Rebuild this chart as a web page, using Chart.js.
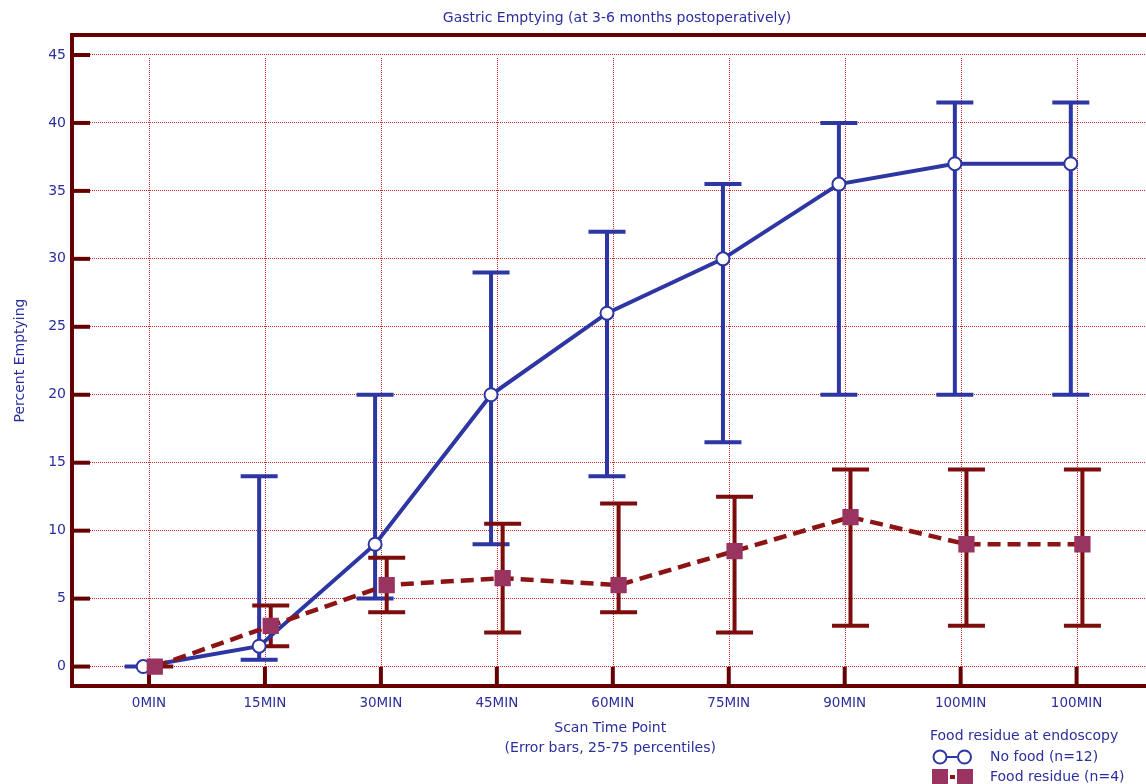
<!DOCTYPE html>
<html>
<head>
<meta charset="utf-8">
<title>Gastric Emptying</title>
<script src="https://cdn.jsdelivr.net/npm/chart.js@4.4.0/dist/chart.umd.min.js"></script>
<style>
    html, body { margin: 0; padding: 0; overflow: hidden; background: #fff; }
    canvas { display: block; }
</style>
</head>
<body>
<canvas id="gastricChart" width="1160" height="784"></canvas>
<script>
// Scan time points and y ticks
const categories = ['0MIN', '15MIN', '30MIN', '45MIN', '60MIN', '75MIN', '90MIN', '100MIN', '100MIN'];
const yTicks = [0, 5, 10, 15, 20, 25, 30, 35, 40, 45];

// No food (n=12): median with 25-75 percentiles
const noFood = [0, 1.5, 9, 20, 26, 30, 35.5, 37, 37];
const noFoodLow = [0, 0.5, 5, 9, 14, 16.5, 20, 20, 20];
const noFoodHigh = [0, 14, 20, 29, 32, 35.5, 40, 41.5, 41.5];

// Food residue (n=4)
const residue = [0, 3, 6, 6.5, 6, 8.5, 11, 9, 9];
const residueLow = [0, 1.5, 4, 2.5, 4, 2.5, 3, 3, 3];
const residueHigh = [0, 4.5, 8, 10.5, 12, 12.5, 14.5, 14.5, 14.5];

const FONT = '"DejaVu Sans", Verdana, sans-serif';
const frameColor = '#660000';
const textBlue = '#2b2f9c';
const lineBlue = '#2d36a3';
const lineRed = '#8c1414';
const barRed = '#7d0c0c';
const squareFill = '#993360';
const gridRed = '#c42a2a';

// small horizontal shift so the two groups don't sit on top of each other
const shift = 0.05;

function drawErrorBars(ctx, xs, ys, low, high, off, color) {
    ctx.strokeStyle = color;
    ctx.lineWidth = 4;
    ctx.lineCap = 'butt';
    low.forEach(function(v, i) {
        const px = xs.getPixelForValue(i + off);
        const y1 = ys.getPixelForValue(v);
        const y2 = ys.getPixelForValue(high[i]);
        ctx.beginPath();
        ctx.moveTo(px, y1); ctx.lineTo(px, y2);
        ctx.moveTo(px - 18.5, y1); ctx.lineTo(px + 18.5, y1);
        ctx.moveTo(px - 18.5, y2); ctx.lineTo(px + 18.5, y2);
        ctx.stroke();
    });
}

const framePlugin = {
    id: 'frameAndBars',
    beforeDatasetsDraw(chart) {
        const { ctx, chartArea: a, scales: { x, y } } = chart;
        ctx.save();

        // vertical dotted grid, starting just under the top gridline
        const gridTop = y.getPixelForValue(yTicks[yTicks.length - 1]) + 3;
        ctx.strokeStyle = gridRed;
        ctx.lineWidth = 1;
        ctx.setLineDash([1, 1]);
        categories.forEach(function(c, i) {
            const px = Math.round(x.getPixelForValue(i)) + 0.5;
            ctx.beginPath();
            ctx.moveTo(px, gridTop); ctx.lineTo(px, a.bottom);
            ctx.stroke();
        });
        ctx.setLineDash([]);

        // frame
        ctx.strokeStyle = frameColor;
        ctx.lineWidth = 4;
        ctx.beginPath();
        ctx.moveTo(a.left, a.top); ctx.lineTo(a.right, a.top);
        ctx.lineTo(a.right, a.bottom); ctx.lineTo(a.left, a.bottom);
        ctx.closePath();
        ctx.stroke();

        // inward tick marks
        yTicks.forEach(function(t) {
            const py = y.getPixelForValue(t);
            ctx.beginPath();
            ctx.moveTo(a.left, py); ctx.lineTo(a.left + 18, py);
            ctx.stroke();
        });
        categories.forEach(function(c, i) {
            const px = x.getPixelForValue(i);
            ctx.beginPath();
            ctx.moveTo(px, a.bottom); ctx.lineTo(px, a.bottom - 19);
            ctx.stroke();
        });

        drawErrorBars(ctx, x, y, noFoodLow, noFoodHigh, -shift, lineBlue);
        drawErrorBars(ctx, x, y, residueLow, residueHigh, shift, barRed);
        ctx.restore();
    },
    afterDraw(chart) {
        const { ctx } = chart;
        ctx.save();
        ctx.font = '14px ' + FONT;
        ctx.fillStyle = textBlue;
        ctx.textBaseline = 'middle';

        // main title
        ctx.textAlign = 'center';
        ctx.fillText('Gastric Emptying (at 3-6 months postoperatively)', 617, 18);

        // legend
        ctx.textAlign = 'left';
        ctx.fillText('Food residue at endoscopy', 930, 736);
        ctx.fillText('No food (n=12)', 990, 757);
        ctx.fillText('Food residue (n=4)', 990, 777);

        ctx.strokeStyle = lineBlue;
        ctx.lineWidth = 2;
        ctx.beginPath();
        ctx.moveTo(947, 757); ctx.lineTo(957, 757);
        ctx.stroke();
        [940, 964.5].forEach(function(cx) {
            ctx.beginPath();
            ctx.arc(cx, 757, 6.5, 0, Math.PI * 2);
            ctx.fillStyle = '#fff';
            ctx.fill();
            ctx.stroke();
        });

        ctx.fillStyle = squareFill;
        ctx.fillRect(932, 769, 16, 16);
        ctx.fillRect(957, 769, 16, 16);
        ctx.strokeStyle = lineRed;
        ctx.lineWidth = 4;
        ctx.beginPath();
        ctx.moveTo(950, 777); ctx.lineTo(955, 777);
        ctx.stroke();
        ctx.restore();
    }
};

const ctx = document.getElementById('gastricChart');

new Chart(ctx, {
    type: 'line',
    data: {
        datasets: [
            {
                label: 'No food (n=12)',
                data: noFood.map((v, i) => ({ x: i - shift, y: v })),
                borderColor: lineBlue,
                borderWidth: 4,
                pointStyle: 'circle',
                pointRadius: 6.5,
                pointBorderWidth: 2,
                pointBackgroundColor: '#ffffff',
                pointBorderColor: lineBlue,
                tension: 0,
                order: 1
            },
            {
                label: 'Food residue (n=4)',
                data: residue.map((v, i) => ({ x: i + shift, y: v })),
                borderColor: lineRed,
                borderWidth: 4.5,
                borderDash: [13, 7],
                pointStyle: 'rect',
                pointRadius: 11.5,
                pointBorderWidth: 0,
                pointBackgroundColor: squareFill,
                pointBorderColor: squareFill,
                tension: 0,
                order: 0
            }
        ]
    },
    options: {
        responsive: false,
        animation: false,
        devicePixelRatio: 1,
        layout: {
            padding: { top: 35, right: 5, left: 0, bottom: 0 }
        },
        scales: {
            x: {
                type: 'linear',
                min: -0.664,
                max: 8.62,
                afterBuildTicks: function(scale) {
                    scale.ticks = categories.map((c, i) => ({ value: i }));
                },
                afterFit: function(scale) {
                    scale.height = 98;
                },
                grid: { display: false, drawTicks: false },
                border: { display: false },
                ticks: {
                    autoSkip: false,
                    maxRotation: 0,
                    padding: 9,
                    color: textBlue,
                    font: { family: FONT, size: 13.5 },
                    callback: function(value) {
                        return categories[value];
                    }
                },
                title: {
                    display: true,
                    text: ['Scan Time Point', '(Error bars, 25-75 percentiles)'],
                    color: textBlue,
                    font: { family: FONT, size: 14, lineHeight: '20px' },
                    padding: { top: 0, bottom: 26 }
                }
            },
            y: {
                min: -1.43,
                max: 46.47,
                afterBuildTicks: function(scale) {
                    scale.ticks = yTicks.map(v => ({ value: v }));
                },
                afterFit: function(scale) {
                    scale.width = 72;
                },
                grid: {
                    color: gridRed,
                    lineWidth: 1,
                    drawTicks: false
                },
                border: { display: false, dash: [1, 1] },
                ticks: {
                    padding: 6,
                    color: textBlue,
                    font: { family: FONT, size: 14 }
                },
                title: {
                    display: true,
                    text: 'Percent Emptying',
                    color: textBlue,
                    font: { family: FONT, size: 14 },
                    padding: { top: 11.5, bottom: 0 }
                }
            }
        },
        plugins: {
            legend: { display: false },
            tooltip: { enabled: false }
        }
    },
    plugins: [framePlugin]
});
</script>
</body>
</html>
